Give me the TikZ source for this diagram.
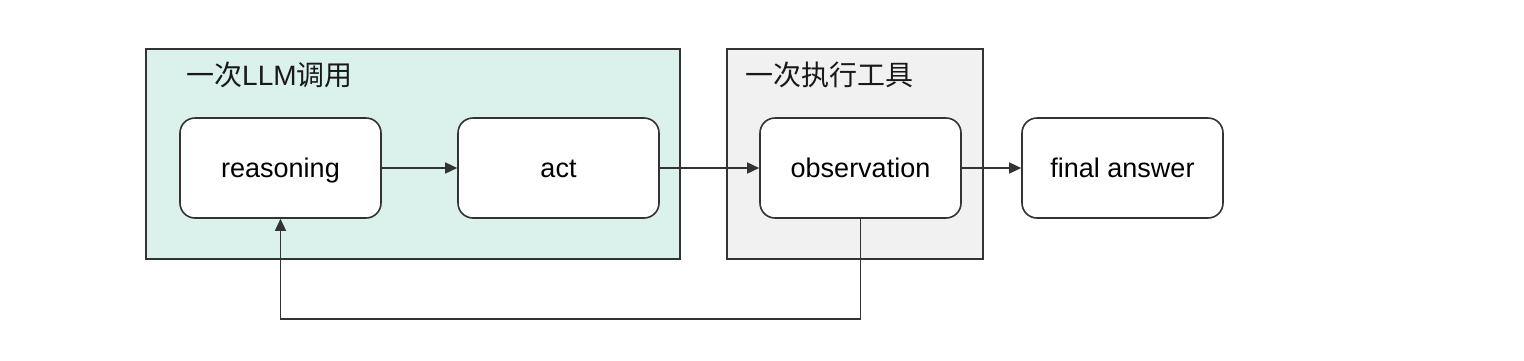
\documentclass[tikz,border=0pt]{standalone}
\usepackage{fontspec}
\setmainfont{Liberation Sans}
\newfontfamily\cjk{Noto Sans CJK SC}
\usetikzlibrary{arrows.meta}
\definecolor{lineC}{HTML}{333333}
\definecolor{tealF}{HTML}{DBF1EC}
\definecolor{grayF}{HTML}{F1F1F1}
\tikzset{
  grp/.style={draw=lineC, line width=1.6pt},
  stepbox/.style={draw=lineC, fill=white, line width=1.6pt, rounded corners=15pt,
    minimum width=201pt, minimum height=100pt, inner sep=0pt, text height=20pt, text depth=2pt,
    font=\fontsize{27}{32}\selectfont},
  ttl/.style={anchor=west, inner sep=0pt, font=\fontsize{28}{32}\selectfont, text=black!90},
  conn/.style={draw=lineC, line width=1.5pt, -{Triangle[length=12pt,width=11pt]}}
}
\begin{document}
\begin{tikzpicture}[x=1pt,y=-1pt]
\useasboundingbox[fill=white] (0,0) rectangle (1524,360);
\path[grp, fill=tealF] (146,49) rectangle (680,259);
\path[grp, fill=grayF] (727,49) rectangle (983,259);
\node[ttl] (t1) at (186,75) {{\cjk 一次}LLM{\cjk 调用}};
\node[ttl] (t2) at (745,75) {\cjk 一次执行工具};
\node[stepbox] (r) at (280.5,168) {reasoning};
\node[stepbox] (a) at (558.5,168) {act};
\node[stepbox] (o) at (860.5,168) {observation};
\node[stepbox] (f) at (1122.5,168) {final answer};
\coordinate (b1) at (860.5,319);
\coordinate (b2) at (280.5,319);
\draw[conn] (r) -- (a);
\draw[conn] (a) -- (o);
\draw[conn] (o) -- (f);
\draw[conn] (o.south) -- (b1) -- (b2) -- (r.south);
\end{tikzpicture}
\end{document}
